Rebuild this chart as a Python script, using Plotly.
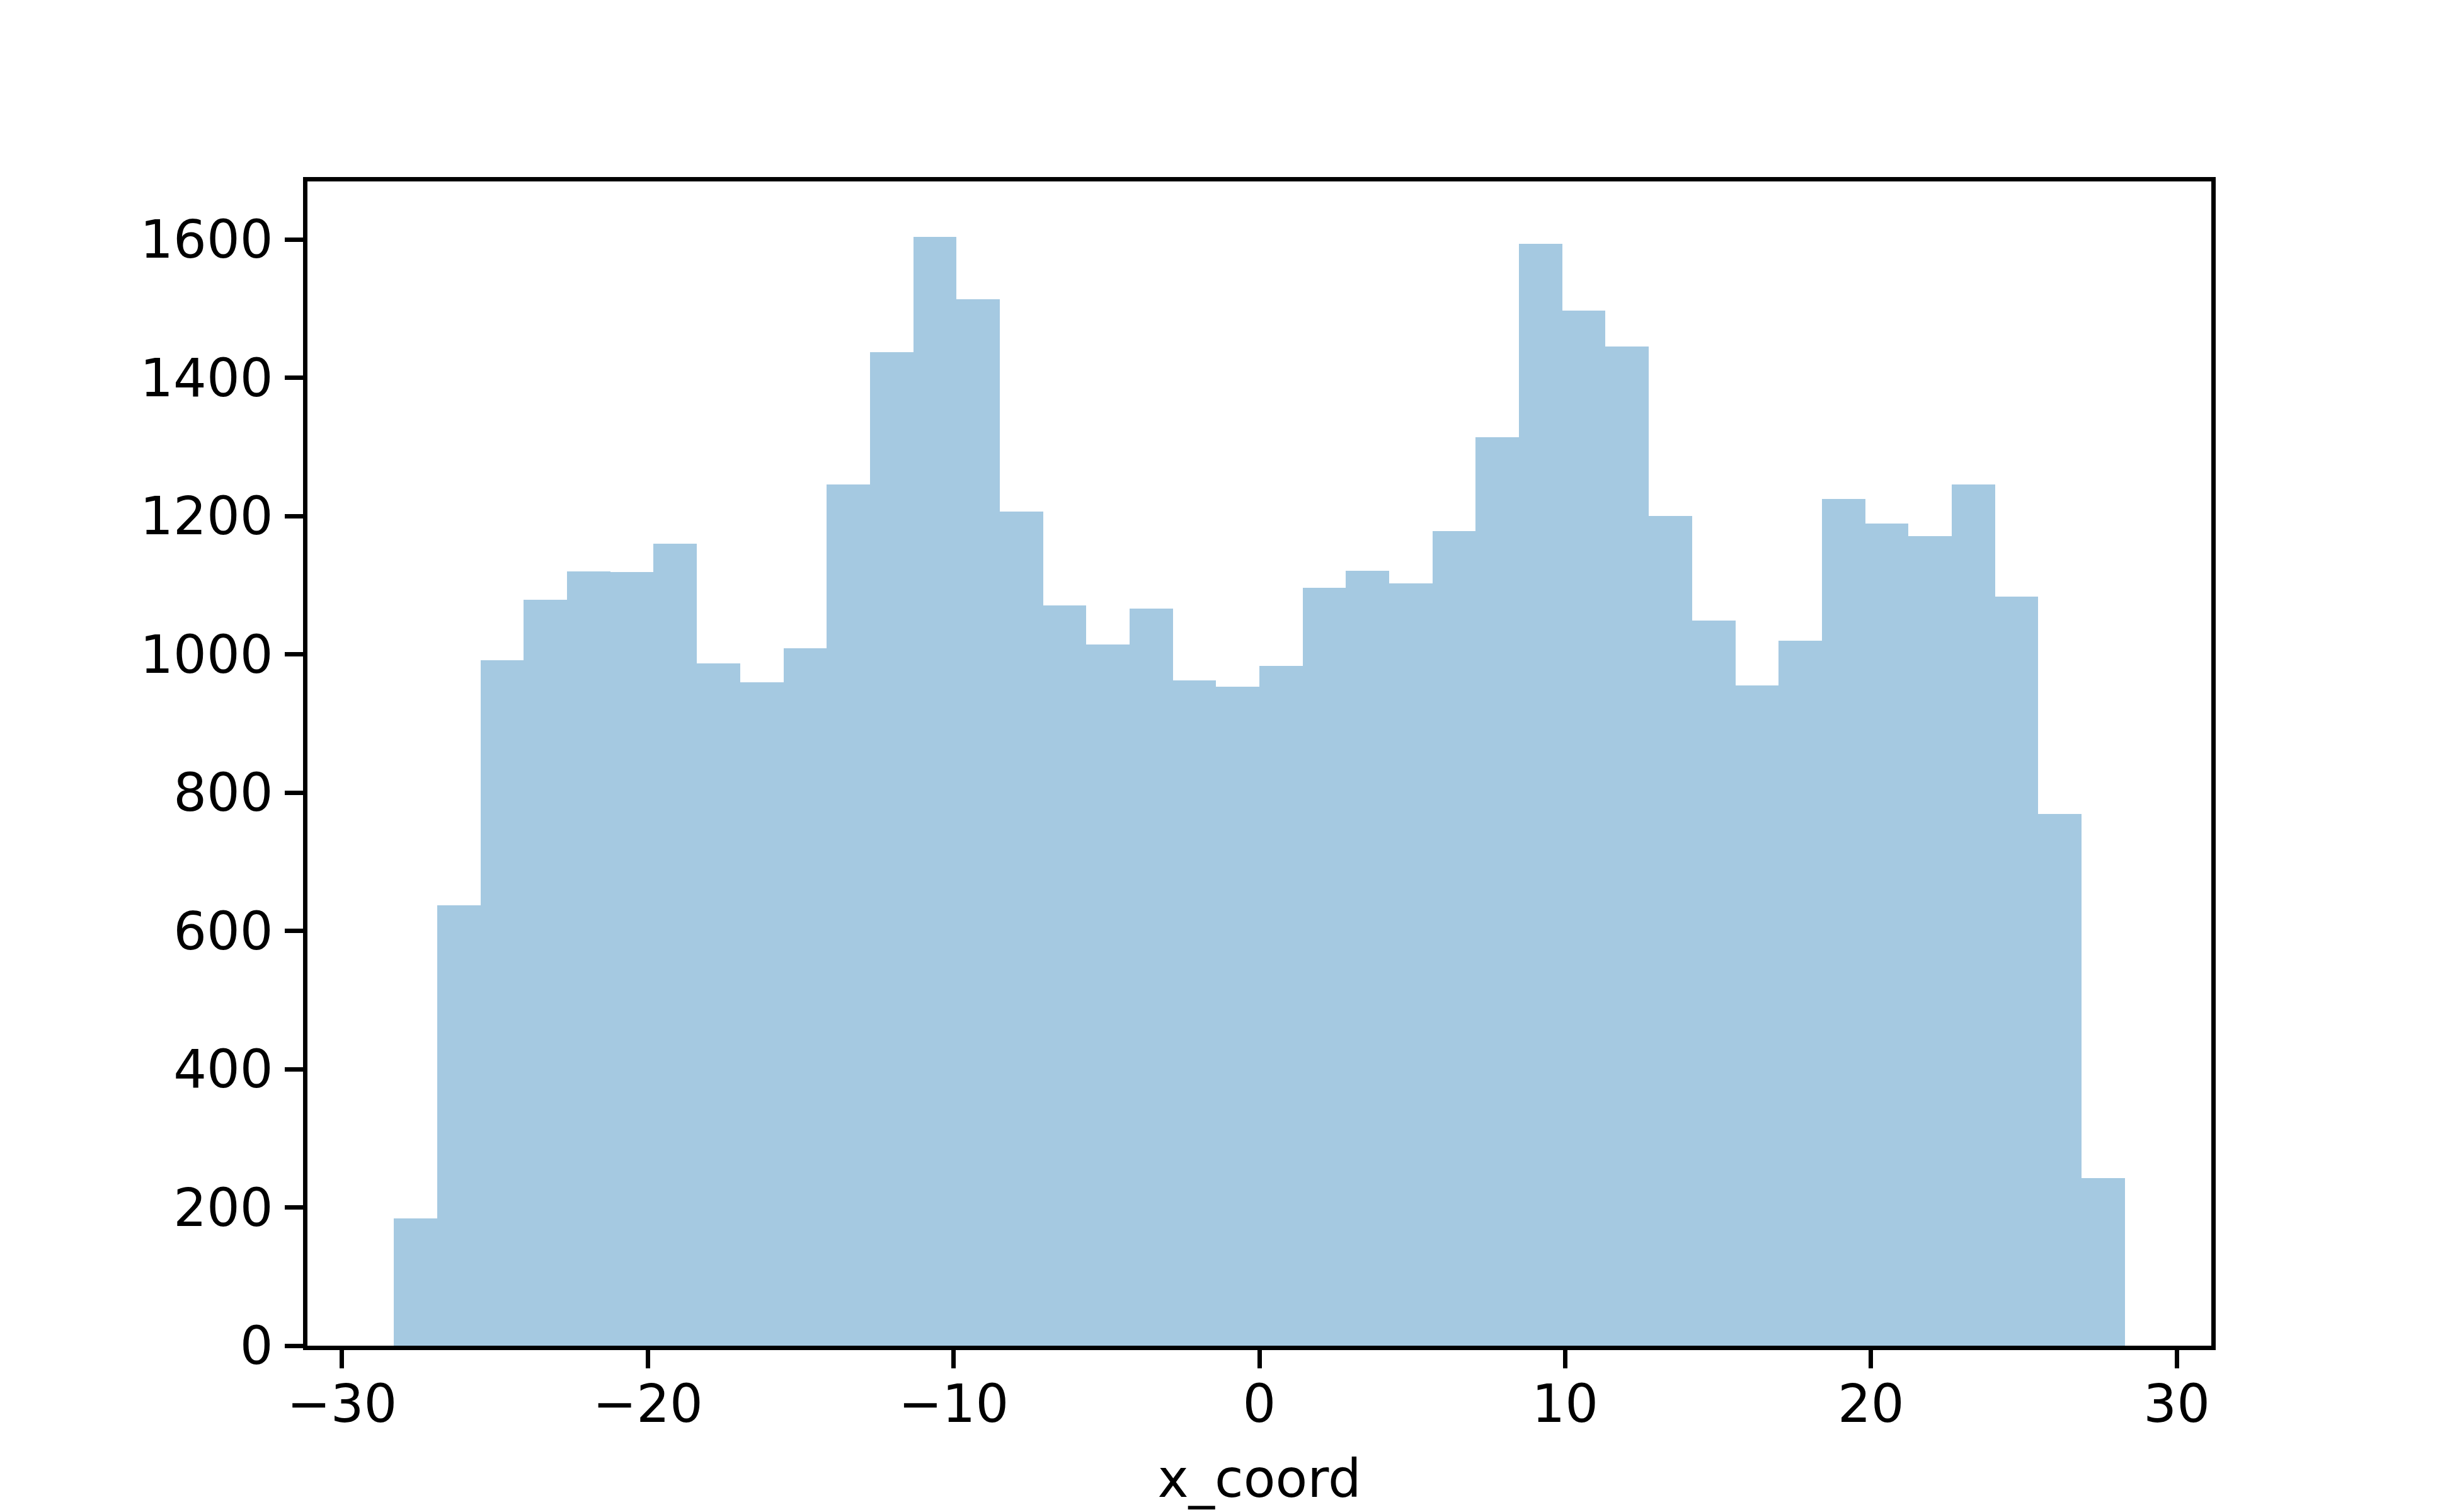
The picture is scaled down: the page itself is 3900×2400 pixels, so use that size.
import plotly.graph_objects as go

# Histogram data
bin_start = -28.3
bin_width = 1.415
counts = [184, 637, 992, 1079, 1120, 1119, 1160, 987, 960, 1009,
          1246, 1437, 1604, 1514, 1207, 1071, 1014, 1066, 962, 953,
          983, 1096, 1121, 1103, 1178, 1314, 1594, 1497, 1445, 1200,
          1049, 955, 1020, 1225, 1189, 1171, 1246, 1084, 769, 242]
x_ticks = [-30, -20, -10, 0, 10, 20, 30]
x_tick_text = ["\u221230", "\u221220", "\u221210", "0", "10", "20", "30"]
y_ticks = [0, 200, 400, 600, 800, 1000, 1200, 1400, 1600]
x_label = "x_coord"

centers = [bin_start + bin_width * (i + 0.5) for i in range(len(counts))]
lo = bin_start
hi = bin_start + bin_width * len(counts)
pad = 0.05 * (hi - lo)

fig = go.Figure()
fig.add_trace(go.Bar(
    x=centers, y=counts, width=[bin_width] * len(counts),
    marker=dict(color="rgb(165,201,225)", line=dict(width=0)),
    showlegend=False,
))

font = dict(family="DejaVu Sans", size=83, color="black")
lw = 6.7
# page body has an 8px default margin; compensate so plot area matches
fig.update_layout(
    width=3892, height=2392,
    margin=dict(l=479.5, r=390, t=280, b=264, pad=0),
    paper_bgcolor="white", plot_bgcolor="white",
    bargap=0, font=font,
)
fig.update_xaxes(
    range=[lo - pad, hi + pad], tickvals=x_ticks, ticktext=x_tick_text,
    showgrid=False, zeroline=False, showline=True, mirror=True,
    linecolor="black", linewidth=lw, ticks="outside", ticklen=29,
    tickwidth=lw, tickcolor="black", tickfont=font,
    ticklabelstandoff=-14,
    title=dict(text=x_label, font=font, standoff=44),
)
fig.update_yaxes(
    range=[0, max(counts) * 1.05], tickvals=y_ticks,
    showgrid=False, zeroline=False, showline=True, mirror=True,
    linecolor="black", linewidth=lw, ticks="outside", ticklen=29,
    tickwidth=lw, tickcolor="black", tickfont=font,
    ticklabelstandoff=2,
)
fig.write_html("out.html")
